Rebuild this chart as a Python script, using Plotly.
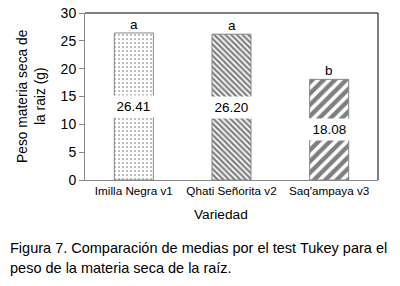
import plotly.graph_objects as go

categories = ["Imilla Negra v1", "Qhati Señorita v2", "Saq'ampaya v3"]
values = [26.41, 26.20, 18.08]
value_labels = ["26.41", "26.20", "18.08"]
letters = ["a", "a", "b"]
y_ticks = [0, 5, 10, 15, 20, 25, 30]
y_title_lines = ["Peso materia seca de", "la raiz (g)"]
x_title = "Variedad"
caption_lines = [
    "Figura 7. Comparación de medias por el test Tukey para el",
    "peso de la materia seca de la raíz.",
]

FONT = "Liberation Sans, Arial, sans-serif"

# plot area in page pixels: x 85..378, y 13..180
L, R, T, B = 85, 378, 13, 180
W, H = R - L, B - T


def px_x(x):
    return (x - L) / W


def px_y(y):
    return (B - y) / H


patterns = [
    dict(shape=".", fgcolor="#555555", bgcolor="white", size=4, solidity=0.2),
    dict(shape="\\", fgcolor="black", bgcolor="white", size=4, solidity=0.55),
    dict(shape="/", fgcolor="black", bgcolor="white", size=8, solidity=0.55),
]

fig = go.Figure()
for c, v, p in zip(categories, values, patterns):
    fig.add_trace(go.Bar(
        x=[c], y=[v], width=0.4,
        marker=dict(color="white", pattern=p, line=dict(color="#888888", width=1)),
        showlegend=False, hoverinfo="skip",
    ))

annotations = []
for c, v, lab, let in zip(categories, values, value_labels, letters):
    annotations.append(dict(
        x=c, y=v / 2, xref="x", yref="y", text=lab, showarrow=False,
        font=dict(family=FONT, size=13.5, color="black"),
        bgcolor="white", width=43, height=21, borderpad=0,
    ))
    annotations.append(dict(
        x=c, y=v, xref="x", yref="y", text=let, showarrow=False,
        yanchor="bottom", yshift=-1,
        font=dict(family=FONT, size=13.5, color="black"),
    ))

for line, xp in zip(y_title_lines, [22, 40]):
    annotations.append(dict(
        x=px_x(xp), y=px_y(96), xref="paper", yref="paper", text=line,
        textangle=-90, showarrow=False, xanchor="center", yanchor="middle",
        font=dict(family=FONT, size=13.8, color="black"),
    ))

annotations.append(dict(
    x=px_x(221), y=px_y(214), xref="paper", yref="paper", text=x_title,
    showarrow=False, xanchor="center", yanchor="middle",
    font=dict(family=FONT, size=13.7, color="black"),
))

for line, yp in zip(caption_lines, [248, 268]):
    annotations.append(dict(
        x=px_x(8), y=px_y(yp), xref="paper", yref="paper", text=line,
        xanchor="left", yanchor="middle", align="left", showarrow=False,
        font=dict(family=FONT, size=14.5, color="black"),
    ))

fig.update_layout(
    width=400, height=286,
    margin=dict(l=L, r=400 - R, t=T, b=286 - B, autoexpand=False),
    paper_bgcolor="white", plot_bgcolor="white",
    font=dict(family=FONT, color="black"),
    annotations=annotations,
    shapes=[
        dict(type="line", xref="paper", yref="paper", x0=0, x1=1, y0=1, y1=1,
             line=dict(color="black", width=1)),
        dict(type="line", xref="paper", yref="paper", x0=1, x1=1, y0=0, y1=1,
             line=dict(color="black", width=1)),
    ],
    xaxis=dict(
        showline=True, linecolor="#888888", linewidth=1, showgrid=False,
        ticks="", automargin=False,
        tickfont=dict(family=FONT, size=11.7, color="black"),
    ),
    yaxis=dict(
        range=[0, 30], tickvals=y_ticks, showline=True, linecolor="#888888", linewidth=1,
        showgrid=False, zeroline=False, ticks="outside", ticklen=5, tickcolor="#888888",
        automargin=False,
        tickfont=dict(family=FONT, size=14, color="black"),
    ),
)

fig.write_html(
    "out.html",
    config={"displayModeBar": False},
    post_script="document.body.style.margin='0';",
)
